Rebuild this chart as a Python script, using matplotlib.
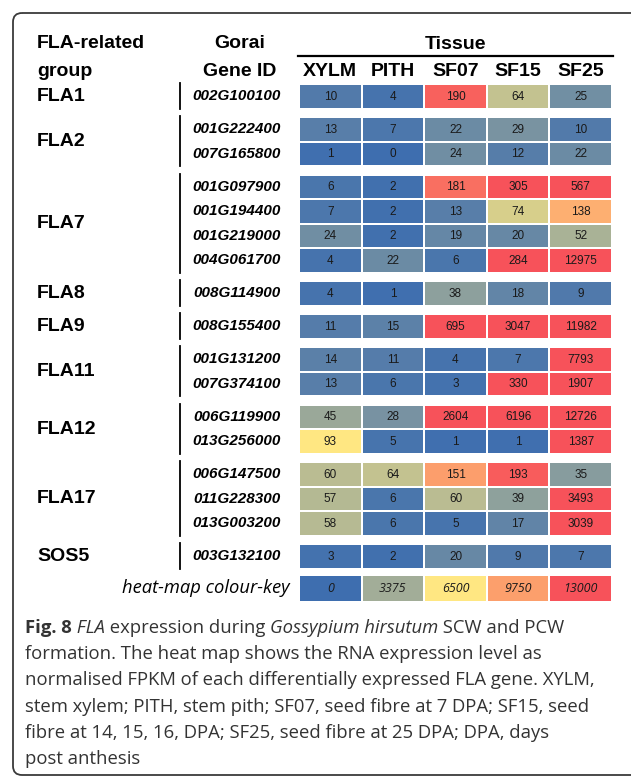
import numpy as np
import matplotlib
matplotlib.use("Agg")
import matplotlib.pyplot as plt
from matplotlib.colors import LinearSegmentedColormap
from matplotlib.patches import Rectangle, FancyBboxPatch

# FLA-related groups and their Gorai gene IDs (one row per gene)
groups = ["FLA1", "FLA2", "FLA7", "FLA8", "FLA9", "FLA11", "FLA12", "FLA17", "SOS5"]
group_sizes = [1, 2, 4, 1, 1, 2, 2, 3, 1]
gene_ids = ["002G100100",
            "001G222400", "007G165800",
            "001G097900", "001G194400", "001G219000", "004G061700",
            "008G114900",
            "008G155400",
            "001G131200", "007G374100",
            "006G119900", "013G256000",
            "006G147500", "011G228300", "013G003200",
            "003G132100"]
tissues = ["XYLM", "PITH", "SF07", "SF15", "SF25"]

# normalised FPKM per tissue
xylm = [10, 13, 1, 6, 7, 24, 4, 4, 11, 14, 13, 45, 93, 60, 57, 58, 3]
pith = [4, 7, 0, 2, 2, 2, 22, 1, 15, 11, 6, 28, 5, 64, 6, 6, 2]
sf07 = [190, 22, 24, 181, 13, 19, 6, 38, 695, 4, 3, 2604, 1, 151, 60, 5, 20]
sf15 = [64, 29, 12, 305, 74, 20, 284, 18, 3047, 7, 330, 6196, 1, 193, 39, 17, 9]
sf25 = [25, 10, 22, 567, 138, 52, 12975, 9, 11982, 7793, 1907, 12726, 1387, 35, 3493, 3039, 7]

key_values = [0, 3375, 6500, 9750, 13000]

# colour scale: blue -> yellow -> orange -> red
scale_colours = ["#3e6eaf", "#ffe882", "#fca06c", "#f7525a"]
scale_pos = [0.0, 0.5, 0.75, 1.0]
cell_stops = [0, 93, 150, 200]   # where the data cells reach each colour

caption = [
    [("Fig. 8", "bold"), (" FLA", "italic"), (" expression during ", "normal"),
     ("Gossypium hirsutum", "italic"), (" SCW and PCW", "normal")],
    [("formation. The heat map shows the RNA expression level as", "normal")],
    [("normalised FPKM of each differentially expressed FLA gene. XYLM,", "normal")],
    [("stem xylem; PITH, stem pith; SF07, seed fibre at 7 DPA; SF15, seed", "normal")],
    [("fibre at 14, 15, 16, DPA; SF25, seed fibre at 25 DPA; DPA, days", "normal")],
    [("post anthesis", "normal")],
]

# layout (figure pixels)
cell_x0, cell_pitch, cell_w = 300, 62.6, 60.6
top0, row_pitch, row_h, group_gap = 85, 24.5, 22.5, 8.5
key_gap, key_h = 6, 25
sep_x, gene_x, group_x = 180, 281, 37
cap_x, cap_y0, cap_dy = 25, 628, 26.2

HEAD = "Liberation Sans"
CAP = "Open Sans"

cmap = LinearSegmentedColormap.from_list("fla", list(zip(scale_pos, scale_colours)))
expr = np.column_stack([xylm, pith, sf07, sf15, sf25])

fig = plt.figure(figsize=(6.31, 7.78), dpi=100)
ax = fig.add_axes([0, 0, 1, 1])
ax.set_xlim(0, 631)
ax.set_ylim(778, 0)
ax.axis("off")

# rounded frame around the figure panel
ax.add_patch(FancyBboxPatch((13, 13), 640, 762, boxstyle="round,pad=0,rounding_size=9",
                            fc="none", ec="#3a3a3a", lw=1.3, clip_on=False))

# headers
ax.text(group_x, 43, "FLA-related", fontsize=14, fontweight="bold", family=HEAD, va="center")
ax.text(group_x, 71, "group", fontsize=14, fontweight="bold", family=HEAD, va="center")
ax.text(240, 43, "Gorai", fontsize=14, fontweight="bold", family=HEAD, va="center", ha="center")
ax.text(240, 71, "Gene ID", fontsize=14, fontweight="bold", family=HEAD, va="center", ha="center")
x_mid = cell_x0 + (len(tissues) * cell_pitch - (cell_pitch - cell_w)) / 2
ax.text(x_mid, 44, "Tissue", fontsize=14, fontweight="bold", family=HEAD, va="center", ha="center")
ax.plot([cell_x0 - 2, cell_x0 + len(tissues) * cell_pitch], [55.7, 55.7], color="black", lw=1.6)
for j, t in enumerate(tissues):
    ax.text(cell_x0 + j * cell_pitch + cell_w / 2, 71, t, fontsize=14, fontweight="bold",
            family=HEAD, va="center", ha="center")

# row positions
row_top = []
group_top = []
y = top0
for size in group_sizes:
    group_top.append(y)
    for k in range(size):
        row_top.append(y + k * row_pitch)
    y += size * row_pitch + group_gap

# group labels and separators
start = 0
for g, size, gy in zip(groups, group_sizes, group_top):
    y_end = row_top[start + size - 1] + row_h
    ax.text(group_x, (gy + y_end) / 2, g, fontsize=14, fontweight="bold", family=HEAD, va="center")
    ax.plot([sep_x, sep_x], [gy - 2, y_end + 1], color="black", lw=1.3)
    start += size

# heat-map cells
for i, gid in enumerate(gene_ids):
    yc = row_top[i] + row_h / 2
    ax.text(gene_x, yc, gid, fontsize=11, fontweight="bold", fontstyle="italic", family=HEAD,
            va="center", ha="right")
    for j in range(len(tissues)):
        v = expr[i, j]
        frac = np.interp(v, cell_stops, scale_pos)
        x0 = cell_x0 + j * cell_pitch
        ax.add_patch(Rectangle((x0, row_top[i]), cell_w, row_h, fc=cmap(frac), ec="none"))
        ax.text(x0 + cell_w / 2, yc + 0.5, str(v), fontsize=8.5, family=HEAD, color="#1a1a1a",
                va="center", ha="center")

# colour key
key_top = row_top[-1] + row_pitch + key_gap
ax.text(290, key_top + key_h / 2, "heat-map colour-key", fontsize=13.2, fontstyle="italic",
        family=CAP, va="center", ha="right")
for j, v in enumerate(key_values):
    x0 = cell_x0 + j * cell_pitch
    ax.add_patch(Rectangle((x0, key_top), cell_w, key_h, fc=cmap(v / key_values[-1]), ec="none"))
    ax.text(x0 + cell_w / 2, key_top + key_h / 2 + 1, str(v), fontsize=9, fontstyle="italic",
            family=CAP, color="#1a1a1a", va="center", ha="center")

# caption, with mixed bold / italic runs
for n, line in enumerate(caption):
    prev = None
    for seg, style in line:
        kw = dict(fontsize=13.3, family=CAP, color="#333333")
        if style == "bold":
            kw["fontweight"] = "bold"
        elif style == "italic":
            kw["fontstyle"] = "italic"
        if prev is None:
            prev = ax.text(cap_x, cap_y0 + n * cap_dy, seg, va="center", **kw)
        else:
            prev = ax.annotate(seg, xycoords=prev, xy=(1, 0), va="bottom", **kw)

fig.savefig("out.png", dpi=100)
